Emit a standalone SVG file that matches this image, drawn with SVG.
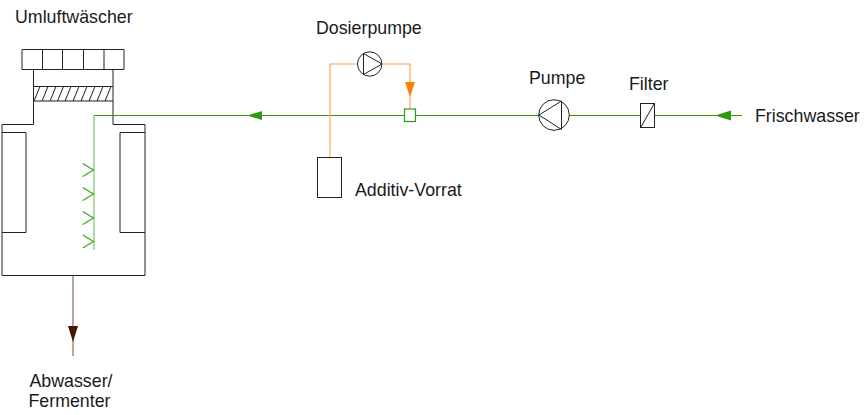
<svg xmlns="http://www.w3.org/2000/svg" width="864" height="415" viewBox="0 0 864 415">
<style>
text{font-family:"Liberation Sans",Arial,sans-serif;font-size:17.8px;fill:#1a1a1a}
.k{fill:none;stroke:#222;stroke-width:1}
.kf{fill:#fff;stroke:#222;stroke-width:1}
.g{fill:none;stroke:#2f9a10;stroke-width:1}
.o{fill:none;stroke:#ffa050;stroke-width:1.1}
.s{fill:none;stroke:#3aa820;stroke-width:1.2}
</style>
<rect width="864" height="415" fill="#fff"/>
<g id="umluftwaescher">
<path class="k" d="M22 49.5H124V69.5H22ZM42.500 49.5V69.500M62.500 49.5V69.500M83.500 49.500V69.500M104 49.500V69.500"/>
<path class="k" d="M33.500 69.500V124.500H2V275.500H145V124.500H113V69.500"/>
<path class="k" d="M33.500 86.500H113M33.500 101H113"/>
<path class="k" d="M34 101L40 86.500M42 101L48 86.500M50 101L56 86.500M57.500 101L63.500 86.500M65 101L71 86.500M73 101L79 86.500M81 101L87 86.500M89 101L95 86.500M97 101L103 86.500M105 101L111 86.500"/>
<path class="k" d="M2 132.500H26V232.500H2M145 132.500H120V232.500H145"/>
<text x="15" y="23">Umluftwäscher</text>
</g>
<g id="connectors">
<path class="g" d="M742 115.500H94"/>
<path fill="none" stroke="#5cb848" stroke-width="1" d="M94 115V250"/>
<path class="s" d="M82.700 163.500L93.500 170L82.700 176.500M82.700 187.500L93.500 194L82.700 200.500M82.700 211.500L93.500 218L82.700 224.500M82.700 235L93.500 241.500L82.700 248"/>
<path class="o" d="M330 157V64H358M382 64H410V108.500"/>
<path fill="#ff8000" d="M405 82H415L410 97Z"/>
<path fill="#2f9a10" d="M262 111V120L247 115.500ZM731 110.500V120.500L715 115.500Z"/>
<path fill="none" stroke="#8a6a5e" stroke-width="1.2" d="M73 275.500V356"/>
<path fill="#4a1500" d="M68 326H78L73 342Z"/>
</g>
<g id="dosierpumpe">
<circle class="kf" cx="369.700" cy="64" r="12.200"/>
<path class="k" d="M363.500 53.500L382 64L363.500 74.500Z"/>
<text x="316" y="34">Dosierpumpe</text>
</g>
<g id="mischer"><rect x="404.500" y="109" width="11" height="12.500" fill="#fff" stroke="#2f9a10" stroke-width="1.200"/></g>
<g id="additiv-vorrat">
<rect class="kf" x="317.500" y="157.500" width="24" height="40"/>
<text x="355" y="196">Additiv-Vorrat</text>
</g>
<g id="pumpe">
<circle class="kf" cx="554" cy="115" r="15.300"/>
<path class="k" d="M539 115L561.500 101V129.500Z"/>
<text x="529" y="84">Pumpe</text>
</g>
<g id="filter">
<rect class="kf" x="640.500" y="103.500" width="14" height="24"/>
<path class="k" d="M641 127L654 104"/>
<text x="629" y="90">Filter</text>
</g>
<g id="frischwasser"><text x="755" y="122">Frischwasser</text></g>
<g id="abwasser"><text x="29.500" y="387">Abwasser/</text><text x="28.500" y="407">Fermenter</text></g>
</svg>
